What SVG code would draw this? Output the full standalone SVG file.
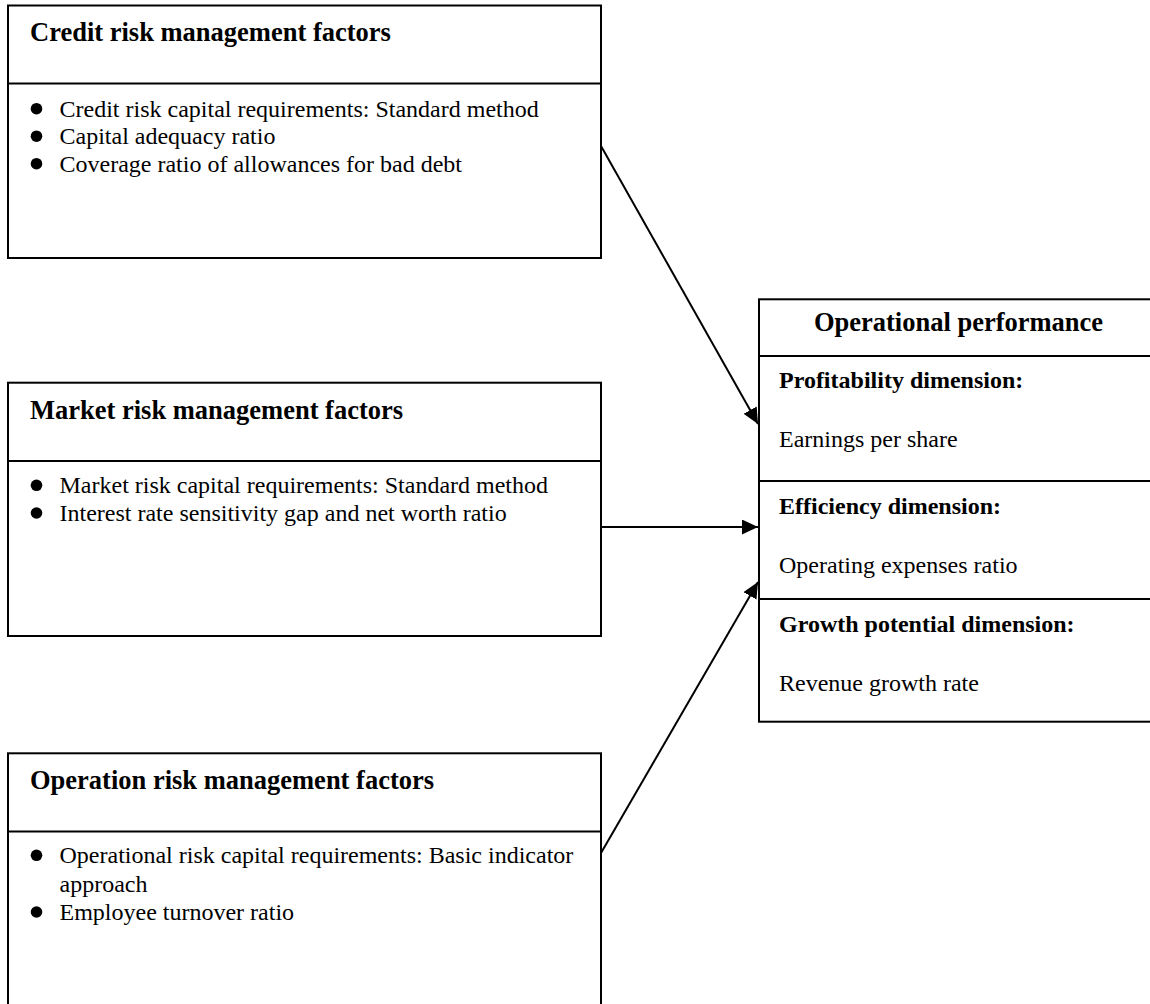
<svg xmlns="http://www.w3.org/2000/svg" width="1150" height="1004" viewBox="0 0 1150 1004">
  <style>
    .box { fill: #ffffff; stroke: #000000; stroke-width: 2; }
    .div { stroke: #000000; stroke-width: 2; }
    .title { font-family: "Liberation Serif", "Times New Roman", serif; font-size: 26.5px; font-weight: bold; fill: #000000; }
    .sub { font-family: "Liberation Serif", "Times New Roman", serif; font-size: 24px; font-weight: bold; fill: #000000; }
    .txt { font-family: "Liberation Serif", "Times New Roman", serif; font-size: 24px; fill: #000000; }
    .dot { fill: #000000; }
    .conn { stroke: #000000; stroke-width: 2; fill: none; marker-end: url(#arrow); }
  </style>
  <defs>
    <marker id="arrow" markerUnits="userSpaceOnUse" markerWidth="17" markerHeight="16" refX="16" refY="7.5" orient="auto">
      <path d="M0,0 L16,7.5 L0,15 z" fill="#000000"/>
    </marker>
  </defs>
  <rect width="1150" height="1004" fill="#ffffff"/>

  <g id="credit-risk">
    <rect class="box" x="8" y="5.5" width="593" height="252.5"/>
    <line class="div" x1="8" y1="83.5" x2="601" y2="83.5"/>
    <text class="title" x="30" y="40.7">Credit risk management factors</text>
    <circle class="dot" cx="36.5" cy="108.7" r="5.8"/>
    <text class="txt" x="59.5" y="116.7">Credit risk capital requirements: Standard method</text>
    <circle class="dot" cx="36.5" cy="136.2" r="5.8"/>
    <text class="txt" x="59.5" y="144.2">Capital adequacy ratio</text>
    <circle class="dot" cx="36.5" cy="163.7" r="5.8"/>
    <text class="txt" x="59.5" y="171.7">Coverage ratio of allowances for bad debt</text>
  </g>

  <g id="market-risk">
    <rect class="box" x="8" y="382.7" width="593" height="253.3"/>
    <line class="div" x1="8" y1="461" x2="601" y2="461"/>
    <text class="title" x="30" y="419.3">Market risk management factors</text>
    <circle class="dot" cx="36.5" cy="485.3" r="5.8"/>
    <text class="txt" x="59.5" y="493.3">Market risk capital requirements: Standard method</text>
    <circle class="dot" cx="36.5" cy="513" r="5.8"/>
    <text class="txt" x="59.5" y="521">Interest rate sensitivity gap and net worth ratio</text>
  </g>

  <g id="operation-risk">
    <rect class="box" x="8" y="753.3" width="593" height="262"/>
    <line class="div" x1="8" y1="831.5" x2="601" y2="831.5"/>
    <text class="title" x="30" y="789.3">Operation risk management factors</text>
    <circle class="dot" cx="36.5" cy="855.3" r="5.8"/>
    <text class="txt" x="59.5" y="863.3">Operational risk capital requirements: Basic indicator</text>
    <text class="txt" x="59.5" y="891.7">approach</text>
    <circle class="dot" cx="36.5" cy="912" r="5.8"/>
    <text class="txt" x="59.5" y="920">Employee turnover ratio</text>
  </g>

  <g id="operational-performance">
    <rect class="box" x="759" y="299.3" width="400" height="422.4"/>
    <line class="div" x1="759" y1="356" x2="1159" y2="356"/>
    <line class="div" x1="759" y1="481" x2="1159" y2="481"/>
    <line class="div" x1="759" y1="599" x2="1159" y2="599"/>
    <text class="title" x="958.5" y="330.7" text-anchor="middle">Operational performance</text>
    <text class="sub" x="779" y="388">Profitability dimension:</text>
    <text class="txt" x="779" y="446.7">Earnings per share</text>
    <text class="sub" x="779" y="514.3">Efficiency dimension:</text>
    <text class="txt" x="779" y="572.7">Operating expenses ratio</text>
    <text class="sub" x="779" y="632.3">Growth potential dimension:</text>
    <text class="txt" x="779" y="690.7">Revenue growth rate</text>
  </g>

  <g id="connectors">
    <line class="conn" x1="601" y1="146" x2="758" y2="424"/>
    <line class="conn" x1="601" y1="527" x2="758" y2="527"/>
    <line class="conn" x1="601" y1="853" x2="758" y2="582"/>
  </g>
</svg>
